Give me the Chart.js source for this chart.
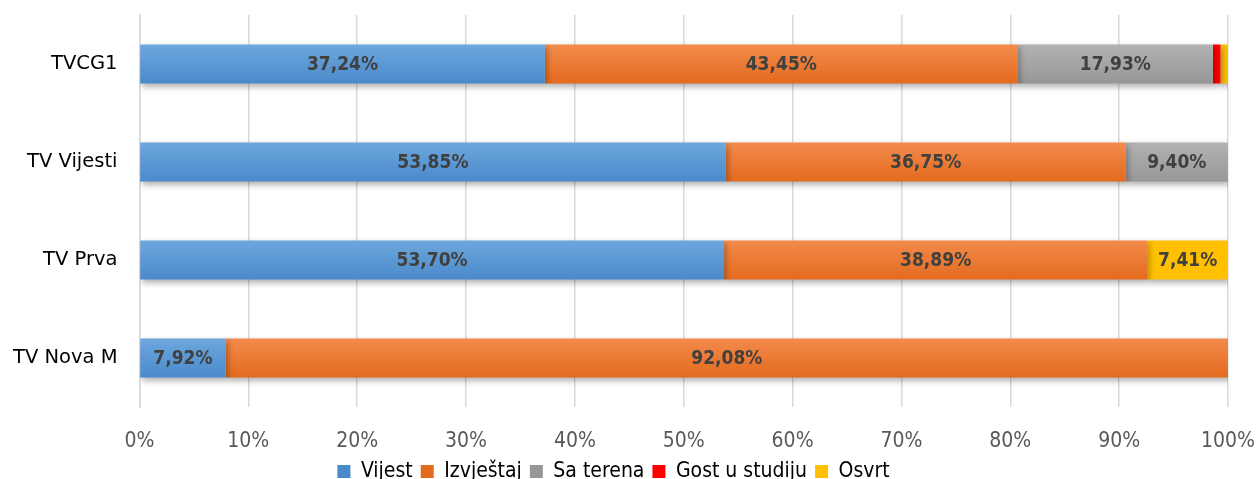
<!DOCTYPE html>
<html>
<head>
<meta charset="utf-8">
<script src="https://cdn.jsdelivr.net/npm/chart.js@4"></script>
<style>
  html, body { margin: 0; padding: 0; background: #fff; }
  #wrap { width: 1258px; height: 479px; }
</style>
</head>
<body>
<div id="wrap"><canvas id="c"></canvas></div>
<script>
const categories = ['TVCG1', 'TV Vijesti', 'TV Prva', 'TV Nova M'];
const seriesNames = ['Vijest', 'Izvještaj', 'Sa terena', 'Gost u studiju', 'Osvrt'];
const vijest = [37.24, 53.85, 53.70, 7.92];
const izvjestaj = [43.45, 36.75, 38.89, 92.08];
const saTerena = [17.93, 9.40, 0, 0];
const gostUStudiju = [0.69, 0, 0, 0];
const osvrt = [0.69, 0, 7.41, 0];
const xTicks = [0, 10, 20, 30, 40, 50, 60, 70, 80, 90, 100];

const colors = ['#5B9BD5', '#ED7D31', '#A5A5A5', '#FF0000', '#FFC000'];
// top / bottom shades for the bar gradient
const shades = [
  ['#6DA7DD', '#4A8ACB'],
  ['#F28B4C', '#E46A1E'],
  ['#B2B2B2', '#979797'],
  ['#FF0000', '#FF0000'],
  ['#FFC000', '#FFC000']
];
const values = [vijest, izvjestaj, saTerena, gostUStudiju, osvrt];

const narrow = "'Liberation Sans Narrow', 'DejaVu Sans Condensed', 'Liberation Sans', sans-serif";

function barFill(i) {
  return c => {
    const chart = c.chart;
    const area = chart.chartArea;
    const y = chart.scales && chart.scales.y;
    if (!area || !y || c.dataIndex === undefined) return colors[i];
    const mid = y.getPixelForValue(c.dataIndex);
    const half = (area.bottom - area.top) / categories.length * 0.2;
    const g = chart.ctx.createLinearGradient(0, mid - half, 0, mid + half);
    g.addColorStop(0, shades[i][0]);
    g.addColorStop(1, shades[i][1]);
    return g;
  };
}

// labels in the middle of each bar segment
const barLabels = {
  id: 'barLabels',
  afterDatasetsDraw(chart) {
    const ctx = chart.ctx;
    ctx.save();
    ctx.font = 'bold 19px ' + narrow;
    ctx.fillStyle = '#404040';
    ctx.textAlign = 'center';
    ctx.textBaseline = 'middle';
    chart.data.datasets.forEach((ds, i) => {
      chart.getDatasetMeta(i).data.forEach((bar, j) => {
        const v = ds.data[j];
        if (v < 3) return;
        const x = (bar.x + bar.base) / 2;
        ctx.fillText(v.toFixed(2).replace('.', ',') + '%', x, bar.y + 1);
      });
    });
    ctx.restore();
  }
};

// soft drop shadow under the bars
const barShadow = {
  id: 'barShadow',
  beforeDatasetsDraw(chart) {
    const ctx = chart.ctx;
    ctx.save();
    ctx.shadowColor = 'rgba(0,0,0,0.3)';
    ctx.shadowBlur = 6;
    ctx.shadowOffsetX = 2;
    ctx.shadowOffsetY = 3;
  },
  afterDatasetsDraw(chart) {
    chart.ctx.restore();
  }
};

new Chart(document.getElementById('c'), {
  type: 'bar',
  data: {
    labels: categories,
    datasets: seriesNames.map((name, i) => ({
      label: name,
      data: values[i],
      backgroundColor: barFill(i),
      borderWidth: 0,
      categoryPercentage: 1,
      barPercentage: 0.4
    }))
  },
  options: {
    indexAxis: 'y',
    responsive: true,
    maintainAspectRatio: false,
    animation: false,
    layout: { autoPadding: false, padding: { left: -1, right: 30, top: 15, bottom: -13 } },
    scales: {
      x: {
        stacked: true,
        min: 0,
        max: 100,
        afterBuildTicks: axis => { axis.ticks = xTicks.map(v => ({ value: v })); },
        afterFit: axis => {
          axis.height = 46;
          axis.paddingLeft = 0;
          axis.paddingRight = 0;
        },
        ticks: {
          callback: v => v + '%',
          color: '#595959',
          font: { family: narrow, size: 21 },
          padding: 22
        },
        grid: { color: '#d9d9d9', lineWidth: 1.5, drawTicks: false },
        border: { display: false }
      },
      y: {
        stacked: true,
        afterFit: axis => {
          axis.paddingTop = 0;
          axis.paddingBottom = 0;
        },
        ticks: {
          color: '#000',
          font: { family: "'DejaVu Sans', sans-serif", size: 19.5 },
          padding: 14
        },
        grid: { display: false },
        border: { display: true, color: '#d9d9d9', width: 1.5 }
      }
    },
    plugins: {
      legend: {
        position: 'bottom',
        labels: {
          boxWidth: 13,
          boxHeight: 13,
          padding: 8,
          color: '#000',
          font: { family: narrow, size: 21 }
        }
      },
      tooltip: { enabled: false }
    }
  },
  plugins: [barShadow, barLabels]
});
</script>
</body>
</html>
